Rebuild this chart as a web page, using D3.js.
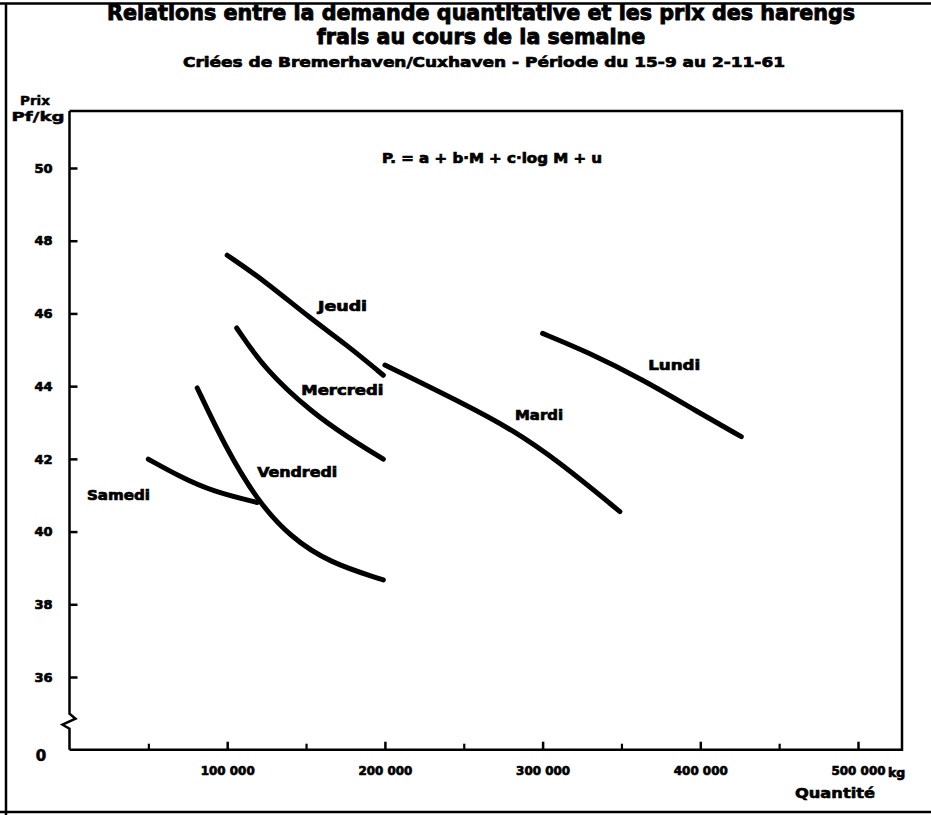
<!DOCTYPE html>
<html>
<head>
<meta charset="utf-8">
<script src="https://cdn.jsdelivr.net/npm/d3@7/dist/d3.min.js"></script>
<style>
html,body{margin:0;padding:0;background:#fff;}
svg{display:block;}
text{font-family:"DejaVu Sans",sans-serif;font-weight:bold;fill:#000;stroke:#000;stroke-width:0.5px;}
</style>
</head>
<body>
<script>
// ---- data ----
const xMajorTicks = [100000, 200000, 300000, 400000, 500000];
const xTickLabels = ["100 000", "200 000", "300 000", "400 000", "500 000"];
const xMinorTicks = [50000, 150000, 250000, 350000, 450000];
const yTicks = [36, 38, 40, 42, 44, 46, 48, 50];
const yTickLabels = ["36", "38", "40", "42", "44", "46", "48", "50"];
const days = ["Lundi", "Mardi", "Mercredi", "Jeudi", "Vendredi", "Samedi"];

const lundi    = [[300000,45.45],[328000,44.95],[364000,44.17],[398000,43.30],[426000,42.61]];
const mardi    = [[200000,44.58],[254000,43.43],[281000,42.79],[309000,41.97],[349000,40.55]];
const mercredi = [[106000,45.60],[124000,44.45],[154500,43.25],[176000,42.61],[199000,41.99]];
const jeudi    = [[100000,47.60],[123000,46.92],[152500,45.87],[176000,45.13],[199000,44.30]];
const vendredi = [[81000,43.95],[98500,42.35],[119000,40.85],[140000,39.85],[165000,39.14],[199000,38.67]];
const samedi   = [[50000,41.99],[70000,41.51],[91000,41.10],[119000,40.80]];

const seriesValues = [lundi, mardi, mercredi, jeudi, vendredi, samedi];

// ---- layout ----
const W = 931, H = 815;
const svg = d3.select("body").append("svg").attr("width", W).attr("height", H);

const x = d3.scaleLinear().domain([0, 500000]).range([69.5, 858]);
const y = d3.scaleLinear().domain([36, 50]).range([677, 168]);
const yBottom = y(34);   // broken-axis origin ("0")
const boxTop = 111, boxRight = 902;

// outer frame
svg.append("path").attr("d", `M0,3.5H${W} M6,3.5V${H} M0,812H${W}`)
  .attr("fill","none").attr("stroke","#000").attr("stroke-width",2.5);

function txt(s, cx, cy, size, len, anchor, sw){
  const t = svg.append("text").attr("x",cx).attr("y",cy).attr("font-size",size)
    .attr("text-anchor", anchor||"middle").attr("dominant-baseline","central").text(s);
  if(len) t.attr("textLength",len).attr("lengthAdjust","spacingAndGlyphs");
  if(sw!=null) t.style("stroke-width", sw+"px");
  return t;
}
// titles
const t1 = txt("Relations entre la demande quantitative et les prix des harengs", 481, 13, 21, null, "middle", 0.9);
const nat1 = t1.node().getComputedTextLength();
const k = 748 / nat1;
t1.attr("textLength",748).attr("lengthAdjust","spacingAndGlyphs");
const t2 = txt("frais au cours de la semaine", 481, 37, 21, null, "middle", 0.9);
t2.attr("textLength", t2.node().getComputedTextLength()*k).attr("lengthAdjust","spacingAndGlyphs");
txt("Criées de Bremerhaven/Cuxhaven - Période du 15-9 au 2-11-61", 484, 62, 14.5, 602, "middle", 0.7);

// axis titles
txt("Prix", 35, 100, 13, 30);
txt("Pf/kg", 38, 116, 13, 53);
txt("Quantité", 835, 793, 14, 80, "middle", 0.6);

// plot box (top, right, bottom)
svg.append("path")
  .attr("d", `M${x(0)},${boxTop}H${boxRight}V${yBottom}H${x(0)}`)
  .attr("fill","none").attr("stroke","#000").attr("stroke-width",2.5);
// y axis with break
svg.append("path")
  .attr("d", `M${x(0)},${boxTop}V${yBottom-36}L${x(0)+6},${yBottom-31}L${x(0)-7},${yBottom-25}L${x(0)},${yBottom-21}V${yBottom}`)
  .attr("fill","none").attr("stroke","#000").attr("stroke-width",2.5);

// y axis ticks
const yAxis = d3.axisLeft(y).tickValues(yTicks).tickSize(-8).tickPadding(17)
  .tickFormat((d,i)=>yTickLabels[i]);
const gy = svg.append("g").attr("transform",`translate(${x(0)},0)`).call(yAxis);
gy.select(".domain").remove();
gy.selectAll(".tick line").attr("stroke","#000").attr("stroke-width",2.5);
gy.selectAll(".tick text").attr("font-size",13).attr("font-family","DejaVu Sans").attr("font-weight","bold")
  .style("stroke","#000").style("stroke-width","0.7px");
// zero label at the break
txt("0", 41, 756, 15, null, "middle", 0.6);

// x axis ticks
const xAxis = d3.axisBottom(x).tickValues(xMajorTicks).tickSize(-8).tickPadding(16)
  .tickFormat((d,i)=>xTickLabels[i]);
const gx = svg.append("g").attr("transform",`translate(0,${yBottom})`).call(xAxis);
gx.select(".domain").remove();
gx.selectAll(".tick line").attr("stroke","#000").attr("stroke-width",2.5);
gx.selectAll(".tick text").attr("font-size",12.5).attr("font-family","DejaVu Sans").attr("font-weight","bold")
  .attr("textLength",54).attr("lengthAdjust","spacingAndGlyphs")
  .style("stroke","#000").style("stroke-width","0.7px");
const xMinor = d3.axisBottom(x).tickValues(xMinorTicks).tickSize(-6).tickFormat("");
const gxm = svg.append("g").attr("transform",`translate(0,${yBottom})`).call(xMinor);
gxm.select(".domain").remove();
gxm.selectAll(".tick line").attr("stroke","#000").attr("stroke-width",2.2);
svg.append("text").attr("x", x(500000)+30).attr("y", yBottom+23).attr("font-size",12.5)
  .attr("text-anchor","start").attr("dominant-baseline","central").text("kg").style("stroke-width","0.7px");

// formula
txt("P. = a + b·M + c·log M + u", 492, 158, 13.5, 220, "middle", 0.7);

// curves
const line = d3.line().x(d=>x(d[0])).y(d=>y(d[1])).curve(d3.curveBasis);
svg.append("g").selectAll("path").data(seriesValues).join("path")
  .attr("d", line).attr("fill","none").attr("stroke","#000")
  .attr("stroke-width",5).attr("stroke-linecap","round");

// curve labels (anchor in data units: left edge / vertical centre, width)
const labelAnchor = {
  "Lundi":[367000,44.58,52], "Mardi":[282500,43.2,48], "Mercredi":[147000,43.89,82],
  "Jeudi":[157600,46.2,49], "Vendredi":[119000,41.64,80], "Samedi":[11100,41.0,63]
};
days.forEach(dn=>{
  const a = labelAnchor[dn];
  txt(dn, x(a[0]), y(a[1]), 13.5, a[2], "start", 0.7);
});
</script>
</body>
</html>
